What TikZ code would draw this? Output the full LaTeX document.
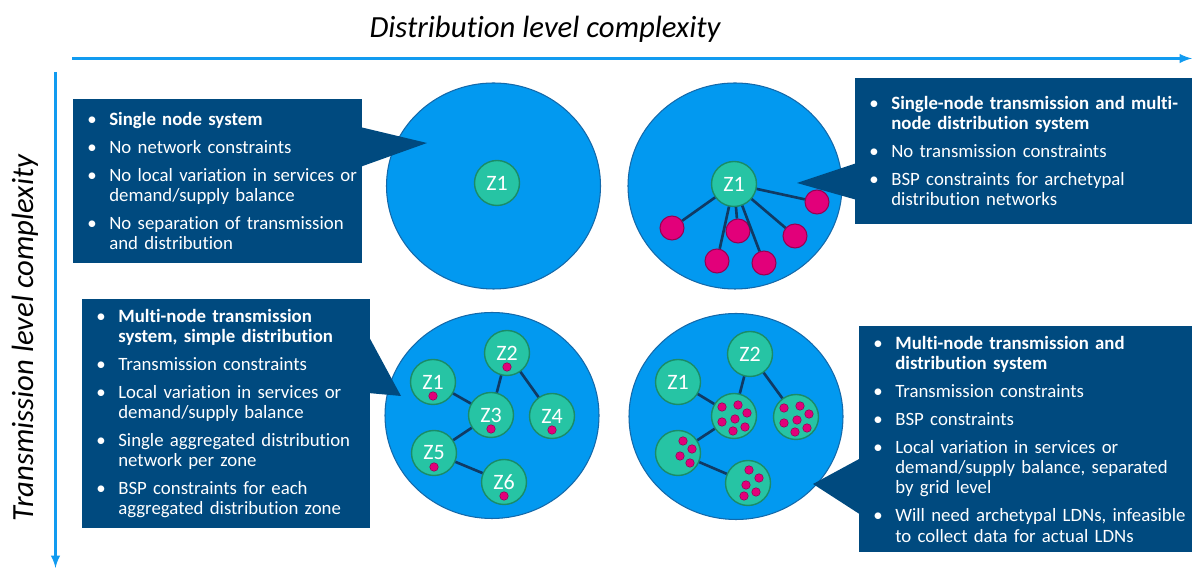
\documentclass[tikz,border=0pt]{standalone}
\usepackage{fontspec}
\setmainfont{Carlito}[Ligatures=NoCommon]
\usepackage{tikz}
\usetikzlibrary{positioning, shapes, arrows, calc}
\definecolor{Axis-blue}{RGB}{17,155,240}
\definecolor{Sys-blue}{RGB}{2,153,240}
\definecolor{Sys-line}{RGB}{20,105,170}
\definecolor{Box-navy}{RGB}{0,74,127}
\definecolor{Zone-green}{RGB}{38,196,164}
\definecolor{Zone-line}{RGB}{26,140,104}
\definecolor{Dist-pink}{RGB}{226,0,122}
\definecolor{Dist-line}{RGB}{150,0,82}
\definecolor{Link-navy}{RGB}{16,58,100}
\newcommand{\bitem}{\hspace*{0.28cm}\makebox[0.44cm][l]{\textbullet}}
\newcommand{\bcont}{\hspace*{0.72cm}}

\begin{document}
\begin{tikzpicture}
      \tikzset{ axis/.style={draw=Axis-blue, line width=1.4pt, ->, >=latex} }
      \tikzset{ sys/.style ={ellipse, draw=Sys-line, fill=Sys-blue, line width=0.6pt, minimum width=4.28cm, minimum height=4.12cm} }
      \tikzset{ box/.style ={fill=Box-navy, text=white, anchor=north west, align=left, inner sep=0pt, font=\fontsize{10.7}{11.4}\selectfont} }
      \tikzset{ ptr/.style ={fill=Box-navy} }
      \tikzset{ zone/.style={circle, draw=Zone-line, fill=Zone-green, line width=0.8pt, text=white, minimum size=0.9cm, inner sep=0pt, font=\fontsize{12.5}{15}\selectfont} }
      \tikzset{ dist/.style={circle, draw=Dist-line, fill=Dist-pink, line width=0.6pt, minimum size=0.48cm, inner sep=0pt} }
      \tikzset{ ldn/.style ={circle, draw=Dist-line, fill=Dist-pink, line width=0.3pt, minimum size=0.17cm, inner sep=0pt} }
      \tikzset{ link/.style={draw=Link-navy, line width=1.5pt} }

      \useasboundingbox (0,0) rectangle (23.84,11.38);

      % axes
      \coordinate (h0) at (1.44,10.21);
      \coordinate (h1) at (23.84,10.21);
      \coordinate (v0) at (1.11,9.94);
      \coordinate (v1) at (1.11,0.02);
      \draw[axis] (h0) -- (h1);
      \draw[axis] (v0) -- (v1);
      \node[anchor=base, font=\itshape\fontsize{17.5}{20}\selectfont]            (htxt) at (10.90,10.62) {Distribution level complexity};
      \node[anchor=base, rotate=90, font=\itshape\fontsize{17.5}{20}\selectfont] (vtxt) at (0.66,4.62)   {Transmission level complexity};

      % systems
      \node[sys] (s1) at (9.87,7.66)  {};
      \node[sys] (s2) at (14.70,7.66) {};
      \node[sys] (s3) at (9.84,3.07)  {};
      \node[sys] (s4) at (14.72,3.05) {};

      % callouts
      \node[box, text width=5.78cm, minimum height=3.28cm] (b1) at (1.46,9.40) {\bitem\textbf{Single node system}\\[0.16cm]
        \bitem No network constraints\\[0.16cm]
        \bitem No local variation in services or\\ \bcont demand/supply balance\\[0.16cm]
        \bitem No separation of transmission\\ \bcont and distribution};
      \node[box, text width=6.90cm, minimum height=2.92cm] (b2) at (17.10,9.82) {\bitem\textbf{Single-node transmission and multi-}\\ \bcont\textbf{node distribution system}\\[0.16cm]
        \bitem No transmission constraints\\[0.16cm]
        \bitem BSP constraints for archetypal\\ \bcont distribution networks};
      \node[box, text width=5.76cm, minimum height=4.58cm] (b3) at (1.64,5.40) {\bitem\textbf{Multi-node transmission}\\ \bcont\textbf{system, simple distribution}\\[0.16cm]
        \bitem Transmission constraints\\[0.16cm]
        \bitem Local variation in services or\\ \bcont demand/supply balance\\[0.16cm]
        \bitem Single aggregated distribution\\ \bcont network per zone\\[0.16cm]
        \bitem BSP constraints for each\\ \bcont aggregated distribution zone};
      \node[box, text width=6.90cm, minimum height=4.52cm] (b4) at (17.18,4.86) {\bitem\textbf{Multi-node transmission and}\\ \bcont\textbf{distribution system}\\[0.16cm]
        \bitem Transmission constraints\\[0.16cm]
        \bitem BSP constraints\\[0.16cm]
        \bitem Local variation in services or\\ \bcont demand/supply balance, separated\\ \bcont by grid level\\[0.16cm]
        \bitem Will need archetypal LDNs, infeasible\\ \bcont to collect data for actual LDNs};

      \coordinate (p1) at (8.54,8.52);
      \coordinate (p2) at (15.94,7.72);
      \coordinate (p3) at (8.02,3.46);
      \coordinate (p4) at (16.26,1.70);
      \fill[ptr] (7.20,8.84)  -- (p1) -- (7.20,8.04)  -- cycle;
      \fill[ptr] (17.14,8.12) -- (p2) -- (17.14,7.38) -- cycle;
      \fill[ptr] (7.36,4.68)  -- (p3) -- (7.36,3.52)  -- cycle;
      \fill[ptr] (17.22,2.22) -- (p4) -- (17.22,1.08) -- cycle;

      % zones
      \node[zone] (s1z1) at (9.94,7.72)  {Z1};
      \node[zone] (s2z1) at (14.68,7.70) {Z1};
      \node[dist] (s2d1) at (13.44,6.82) {};
      \node[dist] (s2d2) at (14.34,6.16) {};
      \node[dist] (s2d3) at (14.76,6.76) {};
      \node[dist] (s2d4) at (15.28,6.12) {};
      \node[dist] (s2d5) at (15.90,6.66) {};
      \node[dist] (s2d6) at (16.34,7.34) {};

      \node[zone] (s3z1) at (8.66,3.74)  {Z1};
      \node[zone] (s3z2) at (10.14,4.32) {Z2};
      \node[zone] (s3z3) at (9.82,3.08)  {Z3};
      \node[zone] (s3z4) at (11.04,3.06) {Z4};
      \node[zone] (s3z5) at (8.68,2.32)  {Z5};
      \node[zone] (s3z6) at (10.08,1.74) {Z6};
      \node[ldn, at=(s3z1.center), yshift=-0.28cm] (s3z1_d) {};
      \node[ldn, at=(s3z2.center), yshift=-0.28cm] (s3z2_d) {};
      \node[ldn, at=(s3z3.center), yshift=-0.28cm] (s3z3_d) {};
      \node[ldn, at=(s3z4.center), yshift=-0.28cm] (s3z4_d) {};
      \node[ldn, at=(s3z5.center), yshift=-0.28cm] (s3z5_d) {};
      \node[ldn, at=(s3z6.center), yshift=-0.28cm] (s3z6_d) {};

      \node[zone] (s4z1) at (13.56,3.74) {Z1};
      \node[zone] (s4z2) at (15.00,4.30) {Z2};
      \node[zone] (s4a)  at (14.68,3.06) {};
      \node[zone] (s4b)  at (15.92,3.04) {};
      \node[zone] (s4c)  at (13.56,2.32) {};
      \node[zone] (s4d)  at (14.96,1.72) {};
      \foreach \dx/\dy [count=\i] in {-0.24/0.18, 0.08/0.22, 0.26/0.06, -0.24/-0.12, 0.02/-0.06, 0.22/-0.22, -0.02/-0.30} {
        \node[ldn] (s4a_\i) at ($(s4a)+(\dx,\dy)$) {};
        \node[ldn] (s4b_\i) at ($(s4b)+(\dx,\dy)$) {};
      }
      \foreach \dx/\dy [count=\i] in {0.10/0.24, 0.28/0.08, 0.04/-0.06, 0.24/-0.20} {
        \node[ldn] (s4c_\i) at ($(s4c)+(\dx,\dy)$) {};
      }
      \foreach \dx/\dy [count=\i] in {0.02/0.26, 0.22/0.10, -0.04/-0.04, 0.16/-0.18, -0.08/-0.26} {
        \node[ldn] (s4d_\i) at ($(s4d)+(\dx,\dy)$) {};
      }

      % links
      \draw[link] (s2z1) -- (s2d1);
      \draw[link] (s2z1) -- (s2d2);
      \draw[link] (s2z1) -- (s2d3);
      \draw[link] (s2z1) -- (s2d4);
      \draw[link] (s2z1) -- (s2d5);
      \draw[link] (s2z1) -- (s2d6);
      \draw[link] (s3z1) -- (s3z3);
      \draw[link] (s3z2) -- (s3z3);
      \draw[link] (s3z2) -- (s3z4);
      \draw[link] (s3z3) -- (s3z5);
      \draw[link] (s3z5) -- (s3z6);
      \draw[link] (s4z1) -- (s4a);
      \draw[link] (s4z2) -- (s4a);
      \draw[link] (s4z2) -- (s4b);
      \draw[link] (s4a)  -- (s4c);
      \draw[link] (s4c)  -- (s4d);
    \end{tikzpicture}
\end{document}
